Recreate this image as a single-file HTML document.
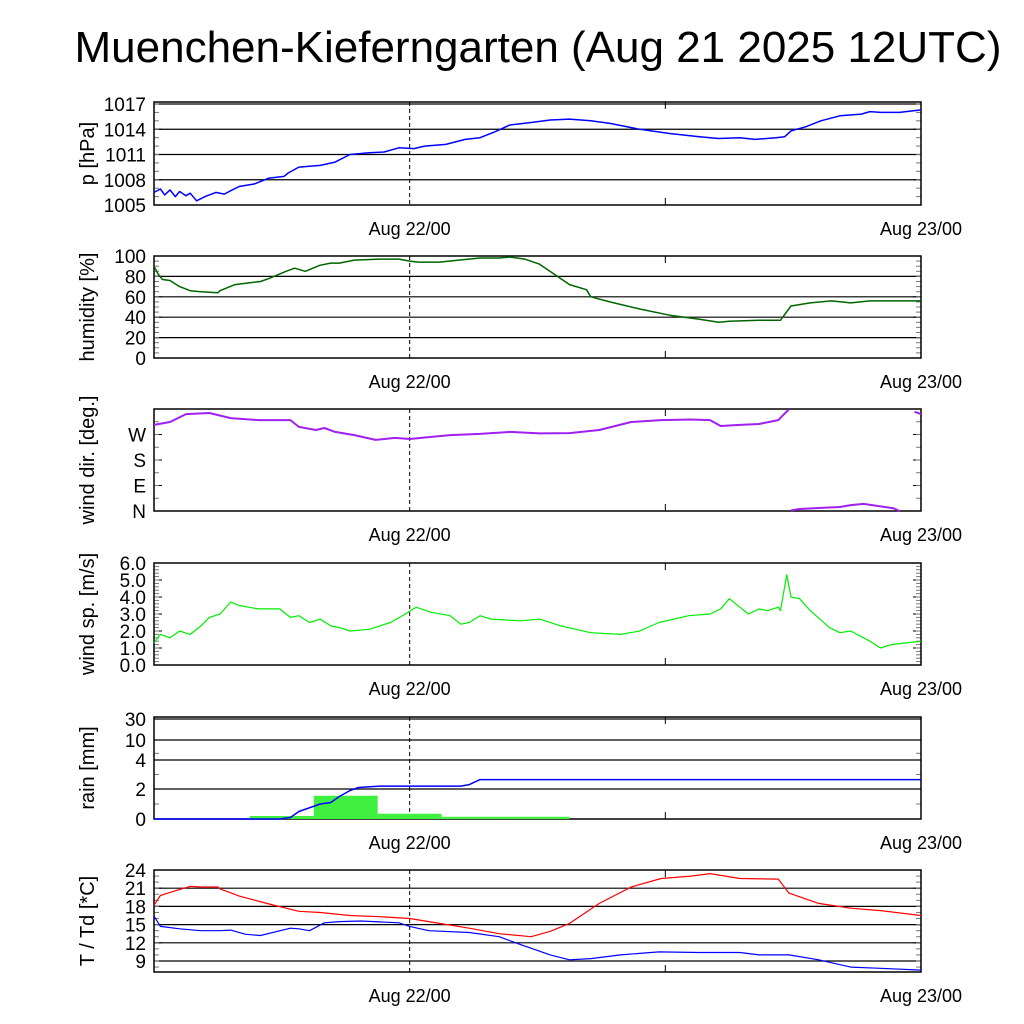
<!DOCTYPE html>
<html><head><meta charset="utf-8"><style>
body{margin:0;background:#fff}
svg{display:block;font-family:"Liberation Sans",sans-serif}
</style></head><body>
<svg id="c" width="1024" height="1024" viewBox="0 0 1024 1024">
<text x="538" y="62" font-size="44" text-anchor="middle">Muenchen-Kieferngarten (Aug 21 2025 12UTC)</text>
</svg>
<script>
// time in hours since Aug 21 12UTC
const xTicksH = [12, 36];
const xTickLabels = ["Aug 22/00", "Aug 23/00"];
const pT = [0,0.3,0.5,0.75,1.0,1.2,1.5,1.7,2.0,2.4,2.9,3.3,3.6,4.0,4.7,5.4,6.1,6.3,6.8,7.8,8.5,9.2,10.1,10.8,11.5,12.2,12.7,13.7,14.6,15.3,16.0,16.7,17.7,18.6,19.5,20.5,21.4,22.8,24.2,25.6,26.5,27.5,28.2,29.2,29.6,29.9,30.6,31.3,32.2,33.2,33.6,34.1,35.0,36.0];
const pV = [1006.5,1006.9,1006.2,1006.8,1006.0,1006.6,1006.1,1006.4,1005.5,1006.0,1006.5,1006.3,1006.7,1007.2,1007.5,1008.2,1008.4,1008.8,1009.5,1009.7,1010.1,1011.0,1011.2,1011.3,1011.8,1011.7,1012.0,1012.2,1012.8,1013.0,1013.7,1014.5,1014.8,1015.1,1015.2,1015.0,1014.7,1014.0,1013.5,1013.1,1012.9,1013.0,1012.8,1013.0,1013.1,1013.8,1014.3,1015.0,1015.6,1015.8,1016.1,1016.0,1016.0,1016.3];
const hT = [0,0.2,0.4,0.75,1.2,1.7,2.2,3.0,3.1,3.8,5.0,5.4,6.2,6.6,7.1,7.8,8.3,8.7,9.4,10.6,11.5,12.0,12.4,13.4,14.3,15.3,16.2,16.7,17.4,18.1,18.8,19.5,20.3,20.5,21.4,22.8,24.2,25.6,26.5,27.0,28.4,29.4,29.9,30.8,31.8,32.7,33.6,36.0];
const hV = [90,82,77,76,70,66,65,64,66,72,75,78,85,88,85,91,93,93,96,97,97,95,94,94,96,98,98,99,97,92,82,72,67,60,55,48,42,38,35,36,37,37,51,54,56,54,56,56];
const dT = [0,0.75,1.5,2.6,3.6,4.9,6.4,6.8,7.6,8.0,8.5,9.4,10.4,11.3,12.0,12.9,13.9,15.3,16.7,18.1,19.5,20.9,22.4,23.8,25.2,26.1,26.6,27.5,28.4,29.3,29.8,29.9,30.3,31.3,32.2,32.7,33.3,34.7,35.0,35.7,36.0];
const dV = [304,314,342,346,328,321,321,297,286,293,279,268,251,258,254,261,268,272,279,274,275,286,314,321,323,321,300,304,307,321,359,2,7,11,14,21,25,10,0,350,342];
const sT = [0,0.3,0.75,1.2,1.7,2.2,2.6,3.1,3.6,4.0,4.9,5.9,6.4,6.8,7.3,7.8,8.3,8.7,9.2,10.1,11.1,11.8,12.3,13.0,13.9,14.4,14.8,15.3,15.8,17.2,18.1,19.1,20.5,21.9,22.8,23.7,25.1,26.1,26.6,27.0,27.5,27.9,28.4,28.8,29.3,29.4,29.7,29.9,30.3,30.8,31.7,32.2,32.7,33.6,34.1,34.6,35.3,36.0];
const sV = [1.3,1.8,1.6,2.0,1.8,2.3,2.8,3.0,3.7,3.5,3.3,3.3,2.8,2.9,2.5,2.7,2.3,2.2,2.0,2.1,2.5,3.0,3.4,3.1,2.9,2.4,2.5,2.9,2.7,2.6,2.7,2.3,1.9,1.8,2.0,2.5,2.9,3.0,3.3,3.9,3.4,3.0,3.3,3.2,3.4,3.2,5.3,4.0,3.9,3.2,2.2,1.9,2.0,1.4,1.0,1.2,1.3,1.4];
const rainBarStart = [4.5,7.5,10.5,13.5,16.5];
const rainBarVal = [0.2,1.55,0.35,0.15,0.15];
const rcT = [0,5.9,6.4,6.8,7.8,8.3,8.7,9.2,9.6,10.6,14.4,14.8,15.3,36.0];
const rcV = [0,0,0.1,0.5,1.0,1.1,1.5,1.9,2.1,2.2,2.2,2.3,2.65,2.65];
const tT = [0,0.3,0.75,1.2,1.7,2.2,3.0,3.1,4.0,5.4,6.8,7.8,9.2,10.6,12.0,13.4,14.8,16.2,17.7,18.6,19.5,20.9,22.4,23.8,25.2,26.1,27.5,29.3,29.8,31.2,32.7,34.1,36.0];
const tV = [18.2,19.8,20.3,20.8,21.3,21.2,21.2,20.9,19.7,18.4,17.2,17.0,16.5,16.3,16.0,15.2,14.4,13.5,13.0,13.9,15.2,18.5,21.2,22.6,23.0,23.4,22.6,22.5,20.2,18.5,17.7,17.3,16.5];
const tdT = [0,0.3,1.2,2.2,3.1,3.6,4.3,5.0,6.4,6.8,7.3,8.0,8.7,9.7,11.5,12.0,12.9,14.8,16.2,17.2,18.6,19.5,20.5,21.9,23.7,25.6,27.5,28.4,29.8,31.2,32.7,34.1,36.0];
const tdV = [16.4,14.7,14.3,14.0,14.0,14.1,13.4,13.2,14.4,14.3,14.0,15.3,15.5,15.6,15.3,14.7,14.0,13.7,13.0,11.7,10.0,9.2,9.4,10.0,10.5,10.4,10.4,10.0,10.0,9.2,8.0,7.8,7.5];

const NS="http://www.w3.org/2000/svg", svg=document.getElementById('c');
const X0=154, X1=921;
const xs = h => X0 + h*(X1-X0)/36;
function el(tag, attrs, parent){const e=document.createElementNS(NS,tag);for(const k in attrs)e.setAttribute(k,attrs[k]);(parent||svg).appendChild(e);return e;}
function panel(name, top, bot, ymap, grid, labels, minor, ytitle){
  const g=el('g',{});
  
  
  labels.forEach(([v,l])=>{
    const y=ymap(v);
    if(grid && y>top+1 && y<bot-1){const gl=el('line',{x1:X0,x2:X1,y1:y,y2:y,stroke:'#000','stroke-width':1.2},g);
      
      }
    [[X0,X0+8],[X1-8,X1]].forEach(([a,b])=>el('line',{x1:a,x2:b,y1:y,y2:y,stroke:'#000','stroke-width':1},g));
    const t=el('text',{x:X0-8,y:y+7,'font-size':19,'text-anchor':'end'},g);t.textContent=l;
    
    
  });
  minor.forEach(v=>{const y=ymap(v);[[X0,X0+5],[X1-5,X1]].forEach(([a,b])=>el('line',{x1:a,x2:b,y1:y,y2:y,stroke:'#777','stroke-width':1},g));});
  el('line',{x1:xs(12),x2:xs(12),y1:top,y2:bot,stroke:'#000','stroke-dasharray':'4,3','stroke-width':1},g);
  el('line',{x1:xs(24),x2:xs(24),y1:bot-7,y2:bot,stroke:'#000'},g);
  el('line',{x1:xs(24),x2:xs(24),y1:top,y2:top+7,stroke:'#000'},g);
  el('rect',{x:X0,y:top,width:X1-X0,height:bot-top,fill:'none',stroke:'#000','stroke-width':1.5},g);
  xTicksH.forEach((h,i)=>{const t=el('text',{x:xs(h),y:bot+30,'font-size':18,'text-anchor':'middle'},g);t.textContent=xTickLabels[i];
    
    });
  const yt=el('text',{x:0,y:0,'font-size':20,'text-anchor':'middle',transform:`translate(${X0-60},${(top+bot)/2}) rotate(-90)`},g);
  yt.textContent=ytitle;
  
  
  return g;
}
function line(T,V,ymap,color,name,w,breakWrap){
  let d='';
  for(let i=0;i<T.length;i++){
    const brk = i===0 || (breakWrap && Math.abs(V[i]-V[i-1])>180);
    d+=(brk?'M':'L')+xs(T[i]).toFixed(1)+','+ymap(V[i]).toFixed(1);
  }
  const p=el('path',{d:d,fill:'none',stroke:color,'stroke-width':w||1.5,'stroke-linejoin':'round'});
  
  
}
const lin=(v0,y0,v1,y1)=>v=>y0+(v-v0)*(y1-y0)/(v1-v0);
const range=(a,b,s)=>{const r=[];for(let v=a;v<=b+1e-9;v+=s)r.push(v);return r;};

const yP=lin(1005,205,1017,104);
panel('pressure',102,205,yP,true,[[1005,'1005'],[1008,'1008'],[1011,'1011'],[1014,'1014'],[1017,'1017']],range(1005,1017,1),'p [hPa]');
line(pT,pV,yP,'#0000ff','pressure-line');
const yH=lin(0,358,100,256);
panel('humidity',256,358,yH,true,[[0,'0'],[20,'20'],[40,'40'],[60,'60'],[80,'80'],[100,'100']],range(0,100,5),'humidity [%]');
line(hT,hV,yH,'#006400','humidity-line');
const yD=lin(0,511,360,409);
panel('wind-direction',409,511,yD,false,[[0,'N'],[90,'E'],[180,'S'],[270,'W']],range(0,360,45),'wind dir. [deg.]');
line(dT,dV,yD,'#a020f0','wind-direction-line',2,true);
const yS=lin(0,665,6,563);
panel('wind-speed',563,665,yS,false,range(0,6,1).map(v=>[v,v.toFixed(1)]),range(0,6,0.2),'wind sp. [m/s]');
line(sT,sV,yS,'#00ee00','wind-speed-line',1.2);
const rk=[0,2,4,10,30], ry=[819,789,760,740,719];
const yR=v=>{for(let i=1;i<rk.length;i++){if(v<=rk[i])return ry[i-1]+(v-rk[i-1])*(ry[i]-ry[i-1])/(rk[i]-rk[i-1]);}return ry[4];};
panel('rain',717,819,yR,true,[[0,'0'],[2,'2'],[4,'4'],[10,'10'],[30,'30']],[1,3,6],'rain [mm]');
rainBarStart.forEach((s,i)=>{const b=el('rect',{x:xs(s),y:yR(rainBarVal[i]),width:xs(s+3)-xs(s),height:819-yR(rainBarVal[i]),fill:'#40f040'});
  
  });
line(rcT,rcV,yR,'#0000ff','cumulative-rain-line');
const yT=lin(9,961,24,870);
panel('temperature',870,972,yT,true,[[9,'9'],[12,'12'],[15,'15'],[18,'18'],[21,'21'],[24,'24']],range(8,24,1),'T / Td [*C]');
line(tT,tV,yT,'#ff0000','temperature-line',1.2);
line(tdT,tdV,yT,'#0000ff','dewpoint-line',1.2);
</script>
</body></html>
